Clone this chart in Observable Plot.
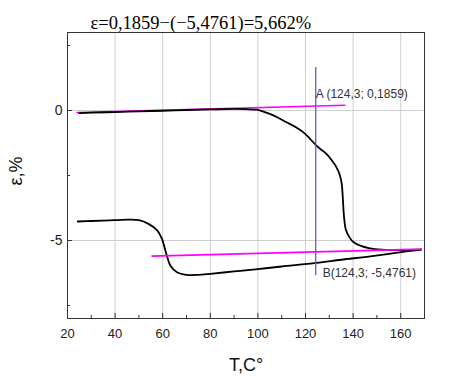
<!DOCTYPE html>
<html>
<head>
<meta charset="utf-8">
<script src="https://cdn.jsdelivr.net/npm/d3@7"></script>
<script src="https://cdn.jsdelivr.net/npm/@observablehq/plot@0.6"></script>
<style>
  html, body { margin: 0; padding: 0; background: #fff; }
</style>
</head>
<body>
<div id="chart"></div>
<script>
// Heating branch (lower)
const heatT = [24.3, 30, 40, 46, 50, 54, 57.6, 59.7, 61.5, 63.2, 66, 70, 75, 80, 90, 100, 110, 124.6, 135, 148, 162.4, 168.5];
const heatE = [-4.27, -4.25, -4.22, -4.2, -4.22, -4.36, -4.6, -4.94, -5.51, -5.96, -6.22, -6.32, -6.32, -6.28, -6.19, -6.1, -6.0, -5.86, -5.74, -5.6, -5.42, -5.35];
// Cooling branch (upper)
const coolT = [168.5, 160, 152, 147, 143, 140, 138.5, 137, 136.2, 135.7, 135.2, 134.3, 132.8, 130.9, 128.8, 126.5, 124.6, 122, 119, 115.5, 112, 108.5, 105, 102, 99.5, 95, 90, 80, 70, 60, 50, 40, 30, 25];
const coolE = [-5.35, -5.37, -5.35, -5.3, -5.2, -5.05, -4.88, -4.6, -4.1, -3.4, -2.8, -2.45, -2.15, -1.9, -1.67, -1.5, -1.35, -1.1, -0.83, -0.62, -0.45, -0.28, -0.13, -0.03, 0.03, 0.05, 0.06, 0.04, 0.02, -0.01, -0.03, -0.06, -0.08, -0.1];
// Tangent lines (magenta)
const tangentUpperT = [24, 136.5];
const tangentUpperE = [-0.08, 0.2];
const tangentLowerT = [55.5, 168.7];
const tangentLowerE = [-5.6, -5.33];
// Vertical marker at T = 124.3
const markerT = 124.3;
const markerE = [1.65, -6.35];
// Annotations
const annotations = [
  {T: 124.3, e: 0.62, label: "A (124,3; 0,1859)"},
  {T: 127.2, e: -6.25, label: "B(124,3; -5,4761)"}
];
const title = "ε=0,1859−(−5,4761)=5,662%";
const xLabel = "T,C°";
const yLabel = "ε,%";
const xMajor = [20, 40, 60, 80, 100, 120, 140, 160];
const xMinor = [30, 50, 70, 90, 110, 130, 150];
const yMajor = [-5, 0];
const yMinor = [-7.5, -2.5, 2.5];

const heat = heatT.map((t, i) => ({T: t, e: heatE[i]}));
const cool = coolT.map((t, i) => ({T: t, e: coolE[i]}));
const tUp = tangentUpperT.map((t, i) => ({T: t, e: tangentUpperE[i]}));
const tLo = tangentLowerT.map((t, i) => ({T: t, e: tangentLowerE[i]}));

const font = "Arial, 'Liberation Sans', sans-serif";

const chart = Plot.plot({
  width: 469,
  height: 383,
  marginLeft: 67,
  marginRight: 45,
  marginTop: 32,
  marginBottom: 65,
  style: {fontFamily: font, background: "#fff"},
  x: {domain: [20, 170]},
  y: {domain: [-8, 3]},
  marks: [
    Plot.gridX(xMajor, {stroke: "#cfcfcf", strokeOpacity: 1, strokeWidth: 1}),
    Plot.gridY(yMajor, {stroke: "#cfcfcf", strokeOpacity: 1, strokeWidth: 1}),
    Plot.axisX({ticks: xMajor, tickSize: 0, tickPadding: 10, fontSize: 13, fill: "#222", label: null}),
    Plot.axisX({ticks: xMajor, tickSize: -5, text: null, label: null, stroke: "#333"}),
    Plot.axisX({ticks: xMinor, tickSize: -3, text: null, label: null, stroke: "#333"}),
    Plot.axisY({ticks: yMajor, tickSize: 0, tickPadding: 5, fontSize: 14, fill: "#222", label: null, tickFormat: d => d === 0 ? "0" : "-" + Math.abs(d)}),
    Plot.axisY({ticks: yMajor, tickSize: -5, text: null, label: null, stroke: "#333"}),
    Plot.axisY({ticks: yMinor, tickSize: -3, text: null, label: null, stroke: "#333"}),
    Plot.frame({stroke: "#333", strokeWidth: 1}),
    Plot.line(tUp, {x: "T", y: "e", stroke: "#ff00ff", strokeWidth: 1.6}),
    Plot.line(heat, {x: "T", y: "e", stroke: "#000", strokeWidth: 1.8, curve: "catmull-rom"}),
    Plot.line(cool, {x: "T", y: "e", stroke: "#000", strokeWidth: 1.8, curve: "catmull-rom"}),
    Plot.line(tLo, {x: "T", y: "e", stroke: "#ff00ff", strokeWidth: 1.6}),
    Plot.ruleX([markerT], {y1: markerE[0], y2: markerE[1], stroke: "#5a5ae0", strokeWidth: 1.3}),
    Plot.text(annotations, {x: "T", y: "e", text: "label", textAnchor: "start", fontSize: 12, fill: "#333"}),
    Plot.text([title], {frameAnchor: "top-left", dx: 23, dy: -17, textAnchor: "start", fontSize: 18.5, fontFamily: "'Liberation Serif', 'Times New Roman', serif", fill: "#000"}),
    Plot.text([xLabel], {frameAnchor: "bottom", dy: 52, fontSize: 18, fill: "#111"}),
    Plot.text([yLabel], {frameAnchor: "left", dx: -51, dy: 10, rotate: -90, fontSize: 18, fill: "#111"})
  ]
});
document.getElementById("chart").appendChild(chart);
</script>
</body>
</html>
